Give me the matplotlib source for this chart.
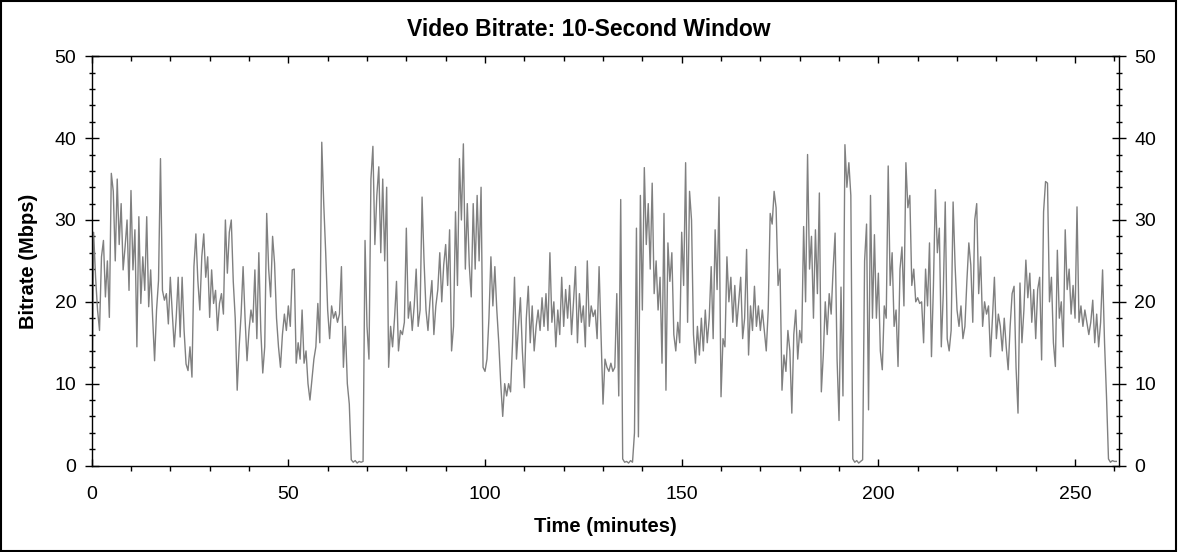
import numpy as np
import matplotlib
matplotlib.use("Agg")
import matplotlib.pyplot as plt
from matplotlib.ticker import MultipleLocator
from matplotlib.patches import Rectangle

# 10-second window bitrate, one value every half minute (Mbps)
step_minutes = 0.5
bitrate = [
    0.3, 28.5, 23.0, 19.0, 16.5, 25.5, 27.5, 20.6, 25.0, 18.1,   # 0
    35.7, 33.5, 25.0, 35.0, 27.0, 32.0, 23.9, 26.7, 30.0, 21.4,  # 5
    33.6, 23.9, 28.8, 14.5, 30.4, 19.8, 25.5, 21.4, 30.4, 19.4,  # 10
    23.9, 18.1, 12.8, 19.0, 22.6, 37.5, 21.4, 20.2, 21.0, 17.3,  # 15
    23.0, 18.6, 14.5, 18.1, 23.0, 15.7, 23.0, 16.5, 12.4, 11.6,  # 20
    14.5, 10.8, 24.3, 28.3, 22.6, 19.0, 25.5, 28.3, 23.0, 25.5,  # 25
    18.1, 23.9, 19.8, 21.4, 16.5, 19.8, 21.0, 18.5, 30.0, 23.5,  # 30
    28.5, 30.0, 22.5, 18.0, 9.2, 14.5, 18.5, 24.3, 18.0, 12.8,   # 35
    16.5, 19.0, 17.5, 23.9, 15.5, 26.0, 16.5, 11.3, 14.5, 30.8,  # 40
    24.0, 20.6, 28.0, 24.7, 18.0, 14.5, 12.0, 16.0, 18.5, 16.5,  # 45
    19.5, 17.0, 23.9, 24.0, 12.5, 15.0, 13.0, 19.0, 12.5, 14.0,  # 50
    10.0, 8.0, 10.5, 13.0, 14.5, 19.8, 15.0, 39.5, 32.0, 26.0,   # 55
    19.0, 15.5, 19.5, 18.0, 18.8, 17.5, 18.5, 24.3, 12.0, 17.0,  # 60
    10.0, 7.5, 0.7, 0.4, 0.6, 0.3, 0.5, 0.4, 0.5, 27.5,          # 65
    17.0, 13.0, 35.0, 39.0, 27.0, 33.0, 36.5, 26.0, 35.0, 25.0,  # 70
    34.0, 12.0, 17.0, 14.5, 18.0, 22.5, 14.0, 16.5, 16.0, 17.5,  # 75
    29.0, 18.0, 20.0, 16.5, 19.5, 24.0, 17.0, 19.0, 32.8, 25.0,  # 80
    19.0, 16.5, 20.0, 22.6, 16.0, 19.5, 21.5, 26.0, 20.0, 24.5,  # 85
    27.0, 22.0, 28.8, 14.0, 17.0, 31.0, 22.0, 37.5, 30.0, 39.3,  # 90
    24.0, 32.0, 24.5, 20.6, 32.0, 24.0, 33.0, 25.0, 34.0, 12.0,  # 95
    11.5, 13.0, 18.0, 25.5, 19.5, 24.3, 19.0, 15.0, 10.0, 6.0,   # 100
    10.0, 8.5, 10.0, 9.0, 15.0, 23.0, 13.0, 17.0, 20.5, 14.0,    # 105
    9.5, 18.0, 21.9, 15.0, 19.5, 14.0, 17.0, 19.0, 16.5, 20.5,   # 110
    17.0, 21.0, 16.5, 26.0, 17.5, 20.0, 14.5, 19.0, 16.0, 23.0,  # 115
    17.0, 21.5, 18.0, 22.0, 16.0, 20.0, 24.3, 15.0, 21.0, 17.5,  # 120
    19.5, 14.5, 25.0, 17.0, 19.5, 18.2, 19.0, 15.5, 24.3, 16.0,  # 125
    7.5, 13.0, 12.0, 11.5, 12.5, 11.5, 12.0, 21.0, 8.5, 32.5,    # 130
    0.8, 0.4, 0.5, 0.3, 0.6, 0.4, 4.0, 29.0, 3.5, 33.0,          # 135
    19.0, 36.4, 27.0, 32.0, 24.0, 34.5, 21.0, 25.0, 19.0, 23.0,  # 140
    12.5, 30.8, 9.2, 27.2, 22.5, 26.0, 16.0, 14.0, 17.5, 15.0,   # 145
    28.5, 22.0, 37.0, 17.5, 33.5, 30.0, 16.0, 12.5, 17.0, 13.5,  # 150
    18.0, 14.0, 19.0, 15.0, 18.0, 24.3, 15.5, 28.8, 21.5, 32.8,  # 155
    8.4, 15.5, 14.5, 25.5, 20.0, 23.0, 17.5, 22.0, 17.0, 20.0,   # 160
    23.0, 15.5, 18.0, 26.4, 13.5, 19.5, 16.5, 21.9, 17.0, 19.5,  # 165
    16.5, 19.0, 16.5, 14.0, 19.0, 30.8, 29.5, 33.5, 31.5, 22.0,  # 170
    24.0, 9.2, 13.5, 11.5, 16.5, 14.0, 6.4, 16.0, 19.0, 13.0,    # 175
    16.5, 15.0, 29.2, 20.0, 38.0, 24.0, 28.0, 18.0, 28.8, 21.0,  # 180
    33.3, 9.0, 13.5, 20.0, 16.0, 21.0, 18.5, 24.0, 28.4, 13.0,   # 185
    5.5, 21.8, 8.5, 39.2, 34.0, 37.0, 33.0, 0.8, 0.4, 0.6,       # 190
    0.3, 0.5, 0.7, 25.0, 29.5, 6.8, 33.0, 18.0, 28.2, 18.0,      # 195
    23.5, 14.0, 11.7, 19.5, 18.0, 36.6, 22.0, 26.0, 17.0, 19.0,  # 200
    12.1, 24.0, 26.7, 19.5, 37.0, 31.5, 33.0, 22.0, 24.0, 20.0,  # 205
    20.5, 19.8, 20.0, 15.0, 24.0, 19.5, 27.2, 13.3, 22.0, 33.7,  # 210
    26.0, 29.0, 14.5, 21.0, 32.2, 15.5, 14.0, 16.5, 32.2, 24.5,  # 215
    19.0, 17.0, 19.5, 15.5, 17.0, 22.5, 27.2, 24.5, 17.5, 30.0,  # 220
    32.0, 21.0, 25.5, 17.0, 20.0, 18.5, 19.5, 13.3, 18.0, 23.0,  # 225
    15.5, 18.5, 17.0, 14.0, 18.0, 14.5, 11.7, 17.0, 21.0, 21.9,  # 230
    12.0, 6.4, 22.3, 15.0, 19.0, 25.1, 20.5, 23.5, 17.5, 21.5,   # 235
    15.5, 21.5, 23.0, 12.9, 31.0, 34.7, 34.5, 20.0, 23.0, 15.0,  # 240
    12.1, 26.3, 18.0, 20.0, 14.5, 28.8, 21.5, 24.0, 18.5, 22.0,  # 245
    18.0, 31.6, 17.5, 19.5, 17.0, 19.0, 17.5, 16.0, 17.5, 20.2,  # 250
    15.0, 18.5, 14.5, 17.5, 23.9, 15.0, 8.4, 0.8, 0.4, 0.6,      # 255
    0.5, 0.5,                                                    # 260
]
minutes = np.arange(len(bitrate)) * step_minutes

title = "Video Bitrate: 10-Second Window"
x_label = "Time (minutes)"
y_label = "Bitrate (Mbps)"

plt.rcParams['font.family'] = ['Liberation Sans', 'DejaVu Sans']

fig = plt.figure(figsize=(11.78, 5.52), dpi=100)
ax = fig.add_axes([0.0778, 0.1567, 0.950 - 0.0778, 0.898 - 0.1567])

ax.plot(minutes, bitrate, color='#808080', linewidth=1.0)

ax.set_xlim(0, 261.2)
ax.set_ylim(0, 50)
ax.xaxis.set_major_locator(MultipleLocator(50))
ax.xaxis.set_minor_locator(MultipleLocator(10))
ax.yaxis.set_major_locator(MultipleLocator(10))
ax.yaxis.set_minor_locator(MultipleLocator(2))

# tick styling
ax.tick_params(axis='x', which='major', direction='in', length=5, width=1,
               labelsize=14, pad=15, top=False)
ax.tick_params(axis='x', which='minor', direction='out', length=3.5, width=1, top=False)
ax.tick_params(axis='y', which='major', direction='inout', length=10, width=1,
               labelsize=14, pad=6, right=True, labelright=True)
ax.tick_params(axis='y', which='minor', direction='inout', length=5, width=1, right=True)

top = ax.secondary_xaxis('top')
top.xaxis.set_major_locator(MultipleLocator(50))
top.xaxis.set_minor_locator(MultipleLocator(10))
top.tick_params(which='major', direction='in', length=5, width=1, labeltop=False)
top.tick_params(which='minor', direction='in', length=3.5, width=1)

for s in ax.spines.values():
    s.set_linewidth(1)

ax.set_xlabel(x_label, fontsize=14.5, fontweight='bold', labelpad=10)
ax.set_ylabel(y_label, fontsize=14.5, fontweight='bold', labelpad=12)
fig.text(0.5, 0.9348, title, ha='center', va='baseline', fontsize=16.5, fontweight='bold')

# frame around the whole picture
fig.patches.append(Rectangle((0.001, 0.002), 0.997, 0.996, transform=fig.transFigure,
                             fill=False, edgecolor='black', linewidth=1.5))

fig.savefig("out.png", dpi=100)
